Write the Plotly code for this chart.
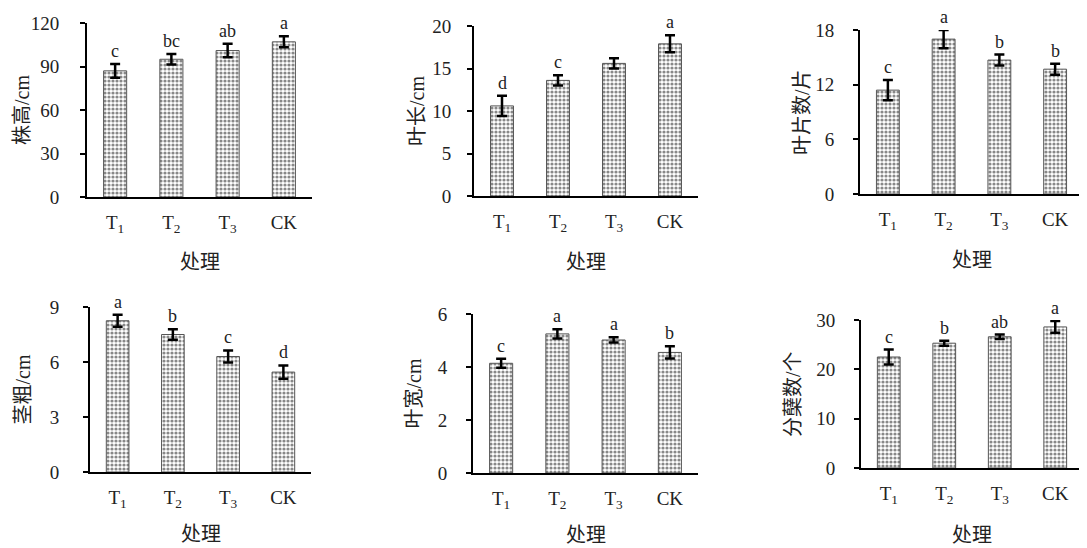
import plotly.graph_objects as go

W, H = 1087, 548
OFF = 8  # the page body keeps its default 8px margin

# data
categories = ["T1", "T2", "T3", "CK"]
tick_labels = ["T<sub>1</sub>", "T<sub>2</sub>", "T<sub>3</sub>", "CK"]

plant_height = [87.0, 95.0, 101.0, 107.0]
plant_height_err = [4.8, 3.6, 4.7, 3.8]
plant_height_sig = ["c", "bc", "ab", "a"]

leaf_length = [10.6, 13.6, 15.6, 17.9]
leaf_length_err = [1.2, 0.6, 0.6, 1.0]
leaf_length_sig = ["d", "c", "", "a"]

leaf_count = [11.4, 17.0, 14.7, 13.7]
leaf_count_err = [1.1, 1.0, 0.6, 0.6]
leaf_count_sig = ["c", "a", "b", "b"]

stem_diam = [8.25, 7.5, 6.3, 5.45]
stem_diam_err = [0.33, 0.28, 0.33, 0.36]
stem_diam_sig = ["a", "b", "c", "d"]

leaf_width = [4.14, 5.25, 5.02, 4.55]
leaf_width_err = [0.17, 0.17, 0.10, 0.23]
leaf_width_sig = ["c", "a", "a", "b"]

tillers = [22.5, 25.3, 26.6, 28.6]
tillers_err = [1.5, 0.5, 0.45, 1.2]
tillers_sig = ["c", "b", "ab", "a"]

# (values, errors, letters, y title, y max, dtick,
#  box px [x0, x1, y0, y1], y title x px, x title y px, y tick label standoff)
panels = [
    (plant_height, plant_height_err, plant_height_sig, "株高/cm", 120, 30, (87, 312, 23, 197), 22, 260, 17),
    (leaf_length, leaf_length_err, leaf_length_sig, "叶长/cm", 20, 5, (474, 698, 26, 196), 417, 260, 12),
    (leaf_count, leaf_count_err, leaf_count_sig, "叶片数/片", 18, 6, (860, 1083, 30, 194), 802, 258, 15),
    (stem_diam, stem_diam_err, stem_diam_sig, "茎粗/cm", 9, 3, (90, 311, 307, 472), 22, 532, 20),
    (leaf_width, leaf_width_err, leaf_width_sig, "叶宽/cm", 6, 2, (473, 698, 314, 473), 413, 533, 15),
    (tillers, tillers_err, tillers_sig, "分蘖数/个", 30, 10, (861, 1083, 320, 468), 793, 533, 15),
]

FW, FH = W - OFF, H - OFF


def px_x(x):
    return (x - OFF) / FW


def px_y(y):
    return 1 - (y - OFF) / FH


LATIN = "Liberation Serif, Noto Sans CJK SC"
CJK = "Noto Sans CJK SC"
TEXT = "#222222"

fig = go.Figure()
annotations = []

for i, (vals, errs, sig, ytitle, ymax, dtick, box, ytx, xty, ystand) in enumerate(panels, start=1):
    x0, x1, y0, y1 = box
    sfx = "" if i == 1 else str(i)

    fig.add_trace(
        go.Bar(
            x=categories,
            y=vals,
            width=0.41,
            marker=dict(
                color="white",
                line=dict(color="#555555", width=1),
                pattern=dict(shape=".", fgcolor="#111111", bgcolor="white",
                             size=4, solidity=0.5),
            ),
            error_y=dict(type="data", array=errs, color="black",
                         thickness=2.5, width=5),
            xaxis="x" + sfx,
            yaxis="y" + sfx,
            showlegend=False,
        )
    )

    fig.update_layout(**{
        "xaxis" + sfx: dict(
            domain=[px_x(x0), px_x(x1)],
            anchor="y" + sfx,
            range=[-0.5, 3.5],
            tickmode="array",
            tickvals=categories,
            ticktext=tick_labels,
            ticks="",
            ticklabelstandoff=7,
            showline=True,
            linecolor="black",
            linewidth=2,
            showgrid=False,
            zeroline=False,
            automargin=False,
            tickfont=dict(family=LATIN, size=19, color=TEXT),
        ),
        "yaxis" + sfx: dict(
            domain=[px_y(y1), px_y(y0)],
            anchor="x" + sfx,
            range=[0, ymax],
            dtick=dtick,
            ticks="outside",
            ticklen=5,
            tickwidth=2,
            tickcolor="black",
            ticklabelstandoff=ystand,
            showline=True,
            linecolor="black",
            linewidth=2,
            showgrid=False,
            zeroline=False,
            automargin=False,
            tickfont=dict(family=LATIN, size=19, color=TEXT),
        ),
    })

    # significance letters above the error bars
    for c, v, e, s in zip(categories, vals, errs, sig):
        if s:
            annotations.append(dict(
                x=c, y=v + e, xref="x" + sfx, yref="y" + sfx,
                text=s, showarrow=False, yanchor="bottom", yshift=1,
                font=dict(family=LATIN, size=18, color=TEXT),
            ))

    # axis titles
    annotations.append(dict(
        x=px_x(ytx), y=px_y((y0 + y1) / 2), xref="paper", yref="paper",
        xanchor="center", yanchor="middle",
        text=ytitle, textangle=-90, showarrow=False,
        font=dict(family=LATIN, size=20, color=TEXT),
    ))
    annotations.append(dict(
        x=px_x((x0 + x1) / 2), y=px_y(xty), xref="paper", yref="paper",
        xanchor="center", yanchor="middle",
        text="处理", showarrow=False,
        font=dict(family=CJK, size=20, color=TEXT),
    ))

fig.update_layout(
    width=FW,
    height=FH,
    margin=dict(l=0, r=0, t=0, b=0, autoexpand=False),
    paper_bgcolor="white",
    plot_bgcolor="white",
    annotations=annotations,
)

fig.write_html("out.html")
